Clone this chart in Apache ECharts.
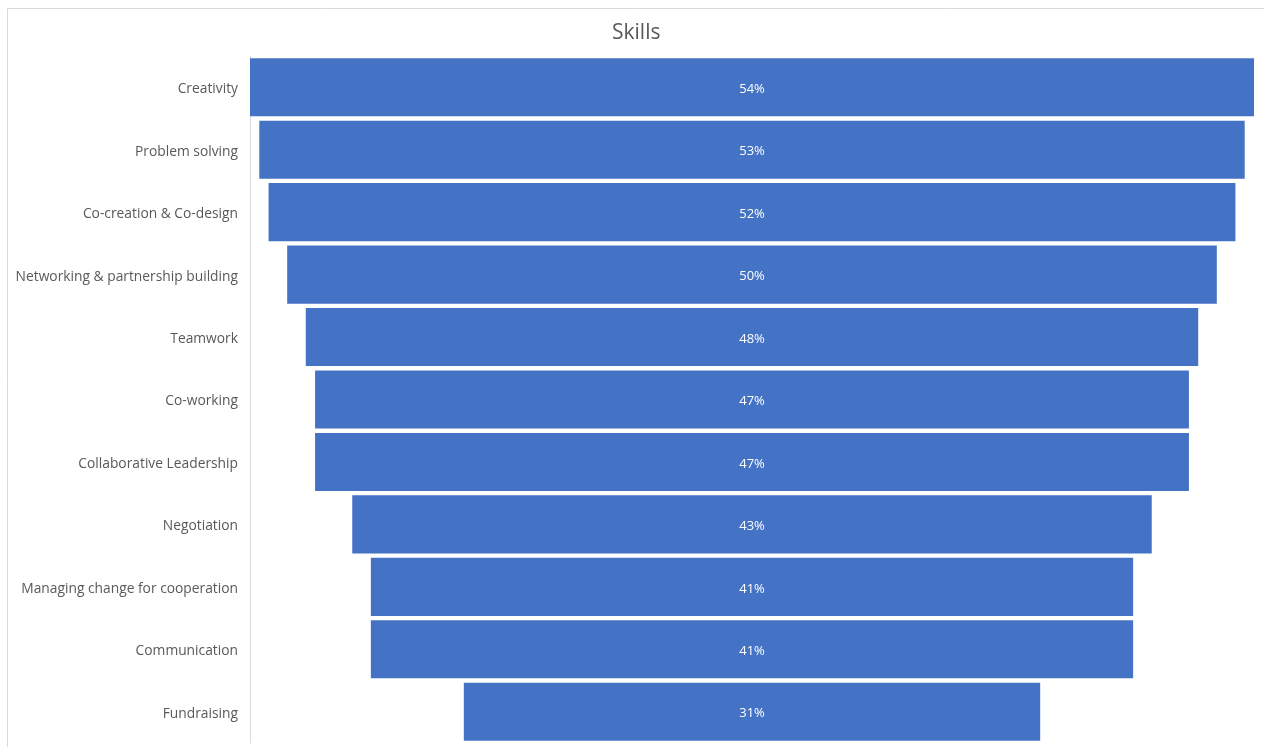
<!DOCTYPE html>
<html>
<head>
<meta charset="utf-8">
<script src="https://cdn.jsdelivr.net/npm/echarts@6/dist/echarts.min.js"></script>
<style>
  html, body { margin: 0; padding: 0; background: #fff; }
  #chart { width: 1264px; height: 747px; }
</style>
</head>
<body>
<div id="chart"></div>
<script>
// Skills funnel: each bar is centred by a transparent offset bar in the same stack
const categories = [
  'Creativity', 'Problem solving', 'Co-creation & Co-design',
  'Networking & partnership building', 'Teamwork', 'Co-working',
  'Collaborative Leadership', 'Negotiation', 'Managing change for cooperation',
  'Communication', 'Fundraising'
];
const shares = [54, 53, 52, 50, 48, 47, 47, 43, 41, 41, 31];

const widest = Math.max(...shares);
const offsets = shares.map(v => (widest - v) / 2);

const chart = echarts.init(document.getElementById('chart'));
chart.setOption({
  animation: false,
  textStyle: { fontFamily: '"Open Sans", "Liberation Sans", sans-serif' },
  title: {
    text: 'Skills',
    left: 607,
    top: 18,
    textStyle: { color: '#595959', fontSize: 21, fontWeight: 'normal', fontFamily: '"Open Sans", sans-serif' }
  },
  graphic: [{
    type: 'rect',
    shape: { x: 7.5, y: 8.5, width: 1300, height: 800 },
    style: { fill: 'none', stroke: '#d9d9d9', lineWidth: 1 },
    silent: true
  }],
  grid: { left: 250, right: 10, top: 56, bottom: 4 },
  xAxis: {
    type: 'value',
    min: 0,
    max: widest,
    show: false
  },
  yAxis: {
    type: 'category',
    data: categories,
    inverse: true,
    axisLine: { show: true, lineStyle: { color: '#d9d9d9', width: 1 } },
    axisTick: { show: false },
    axisLabel: {
      margin: 12,
      formatter: v => '{c|' + v + '}',
      rich: { c: { color: '#595959', fontSize: 13.8, padding: [4, 0, 0, 0] } }
    }
  },
  series: [
    {
      type: 'bar',
      stack: 'funnel',
      data: offsets,
      itemStyle: { color: 'transparent' },
      barCategoryGap: '7%',
      silent: true
    },
    {
      type: 'bar',
      stack: 'funnel',
      data: shares,
      barCategoryGap: '7%',
      itemStyle: { color: '#4472c4' },
      label: {
        show: true,
        position: 'inside',
        offset: [0, 2],
        color: '#ffffff',
        fontSize: 13,
        formatter: p => p.value + '%'
      }
    }
  ]
});
</script>
</body>
</html>
